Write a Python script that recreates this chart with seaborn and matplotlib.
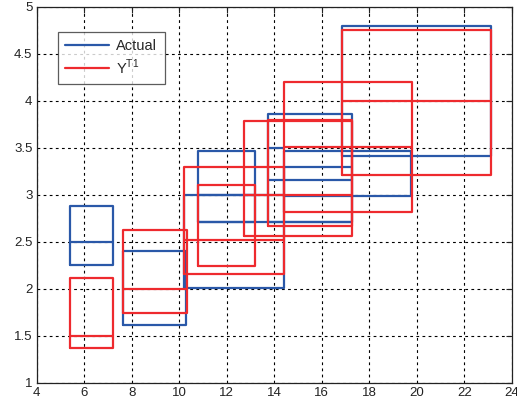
import numpy as np
import pandas as pd
import matplotlib
matplotlib.use("Agg")
import matplotlib.pyplot as plt
from matplotlib.lines import Line2D
import seaborn as sns

# boxes: x start, x end, y low, y high
actual_x0 = [5.4, 7.65, 10.2, 10.8, 13.75, 14.4, 16.85]
actual_x1 = [7.2, 10.3, 14.4, 13.2, 17.25, 19.75, 23.1]
actual_lo = [2.25, 1.61, 2.01, 2.71, 2.71, 2.99, 3.41]
actual_hi = [2.88, 2.40, 3.00, 3.46, 3.86, 3.47, 4.80]
# inner lines of the actual boxes: x start, x end, y
actual_mid_x0 = [5.4, 10.8, 14.4, 13.75, 13.75, 10.8]
actual_mid_x1 = [7.2, 13.2, 17.25, 17.25, 14.4, 17.25]
actual_mid_y = [2.5, 3.0, 3.30, 3.16, 3.50, 2.71]

pred_x0 = [5.4, 7.63, 10.2, 10.8, 12.72, 13.74, 14.4, 16.85]
pred_x1 = [7.2, 10.35, 14.4, 13.2, 17.28, 17.25, 19.8, 23.1]
pred_lo = [1.37, 1.745, 2.155, 2.245, 2.56, 2.667, 2.82, 3.21]
pred_hi = [2.11, 2.62, 3.30, 3.10, 3.78, 3.79, 4.20, 4.75]
pred_mid_x0 = [5.4, 7.63, 10.2, 12.72, 14.4, 16.85]
pred_mid_x1 = [7.2, 10.35, 14.4, 17.28, 19.8, 23.1]
pred_mid_y = [1.50, 2.00, 2.52, 3.0, 3.51, 4.0]

BLUE = "#2a58a8"
RED = "#ee2a2e"


def outline(name, x0, x1, lo, hi):
    rows = []
    for i in range(len(x0)):
        xs = [x0[i], x1[i], x1[i], x0[i], x0[i]]
        ys = [lo[i], lo[i], hi[i], hi[i], lo[i]]
        for k in range(5):
            rows.append({"series": name, "box": f"{name}{i}", "x": xs[k], "y": ys[k]})
    return rows


df = pd.DataFrame(outline("Actual", actual_x0, actual_x1, actual_lo, actual_hi)
                  + outline("Pred", pred_x0, pred_x1, pred_lo, pred_hi))

sns.set_style("white")
plt.rcParams["font.family"] = ["Liberation Sans", "DejaVu Sans"]

fig = plt.figure(figsize=(5.17, 4.07), dpi=100)
ax = fig.add_axes([0.0706, 0.0597, 0.9197, 0.9238])

lw = 1.6
sns.lineplot(data=df[df.series == "Actual"], x="x", y="y", units="box",
             estimator=None, sort=False, color=BLUE, lw=lw, ax=ax,
             solid_joinstyle="round")
ax.hlines(actual_mid_y, actual_mid_x0, actual_mid_x1, color=BLUE, lw=lw)
sns.lineplot(data=df[df.series == "Pred"], x="x", y="y", units="box",
             estimator=None, sort=False, color=RED, lw=lw, ax=ax,
             solid_joinstyle="round")
ax.hlines(pred_mid_y, pred_mid_x0, pred_mid_x1, color=RED, lw=lw)

ax.set_xlim(4, 24)
ax.set_ylim(1, 5)
ax.set_xticks(np.arange(4, 25, 2))
ax.set_yticks(np.arange(1, 5.01, 0.5))
ax.set_yticklabels(["1", "1.5", "2", "2.5", "3", "3.5", "4", "4.5", "5"])
ax.set_xlabel("")
ax.set_ylabel("")
ax.grid(True, color="black", linestyle=(0, (2.5, 3)), linewidth=0.8)
ax.tick_params(direction="in", length=4, width=0.8, top=True, right=True,
               labelsize=9.5, colors="#222222", pad=3)
for s in ax.spines.values():
    s.set_color("#222222")
    s.set_linewidth(0.9)

handles = [Line2D([], [], color=BLUE, lw=lw),
           Line2D([], [], color=RED, lw=lw)]
leg = ax.legend(handles, ["Actual", r"Y$^{\mathregular{T1}}$"],
                loc="upper left", bbox_to_anchor=(0.045, 0.933),
                borderaxespad=0, fontsize=10.5, frameon=True, fancybox=False,
                edgecolor="#333333", handlelength=3.0, borderpad=0.5,
                labelspacing=0.28, handletextpad=0.5)
leg.get_frame().set_linewidth(0.9)

fig.savefig("out.png", dpi=100)
